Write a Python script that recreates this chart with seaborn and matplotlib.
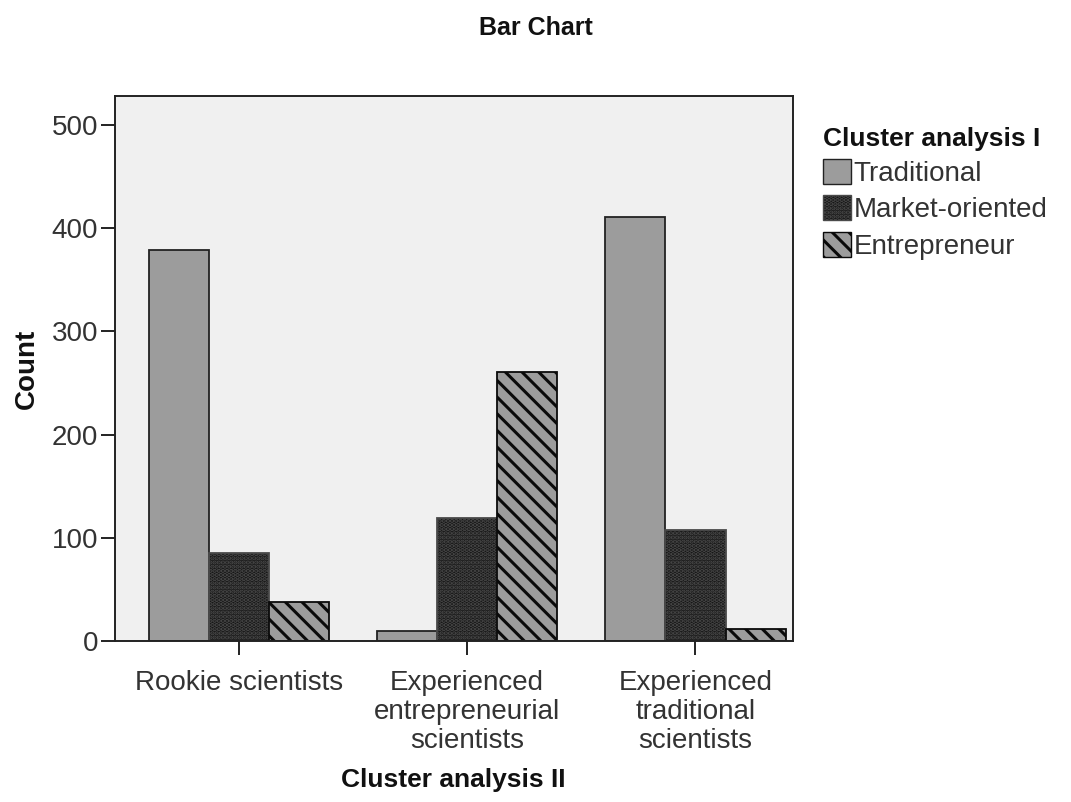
import pandas as pd
import numpy as np
import seaborn as sns
import matplotlib.pyplot as plt
from matplotlib.patches import Patch

# Values
clusters_ii = ['Rookie scientists',
               'Experienced\nentrepreneurial\nscientists',
               'Experienced\ntraditional\nscientists']
clusters_i = ['Traditional', 'Market-oriented', 'Entrepreneur']
traditional = [379, 10, 411]
market_oriented = [85, 119, 108]
entrepreneur = [38, 261, 12]

df = pd.DataFrame({
    'Cluster analysis II': clusters_ii * 3,
    'Cluster analysis I': [c for c in clusters_i for _ in clusters_ii],
    'Count': traditional + market_oriented + entrepreneur,
})

sns.set_style('ticks')
plt.rcParams['font.family'] = ['Liberation Sans', 'DejaVu Sans']
plt.rcParams['hatch.linewidth'] = 2.2

face = {'Traditional': '#9c9c9c', 'Market-oriented': '#161616', 'Entrepreneur': '#9c9c9c'}
hatches = {'Traditional': '', 'Market-oriented': '....', 'Entrepreneur': '\\\\'}
hatch_col = {'Traditional': '#222222', 'Market-oriented': '#4a4a4a', 'Entrepreneur': '#0a0a0a'}

fig = plt.figure(figsize=(10.71, 8.02), dpi=100)
ax = fig.add_axes([0.107, 0.2007, 0.633, 0.6793])
ax.set_facecolor('#f0f0f0')

sns.barplot(data=df, x='Cluster analysis II', y='Count', hue='Cluster analysis I',
            hue_order=clusters_i, order=clusters_ii, palette=face,
            width=0.79, gap=0, saturation=1, ax=ax, legend=False)

for level, cont in zip(clusters_i, ax.containers):
    for bar in cont:
        bar.set_hatch(hatches[level])
        bar.set_edgecolor(hatch_col[level])
        bar.set_linewidth(1.3)

ax.set_ylim(0, 528)
ax.set_xlim(-0.544, 2.425)
ax.set_yticks([0, 100, 200, 300, 400, 500])
for s in ax.spines.values():
    s.set_visible(True)
    s.set_color('#222222')
    s.set_linewidth(1.4)
ax.tick_params(axis='both', direction='out', length=10, width=1.4, color='#222222',
               labelsize=20, labelcolor='#333333', pad=2)
ax.tick_params(axis='x', pad=11)
for lab in ax.get_xticklabels():
    lab.set_linespacing(1.15)
ax.set_ylabel('Count', fontsize=20, fontweight='bold', labelpad=8, color='#111111')
ax.set_xlabel('Cluster analysis II', fontsize=19, fontweight='bold', labelpad=10,
              color='#111111')
fig.suptitle('Bar Chart', fontsize=18, fontweight='bold', y=0.98, color='#111111')

handles = [Patch(facecolor=face[c], hatch=hatches[c], edgecolor=hatch_col[c], label=c)
           for c in clusters_i]
leg = ax.legend(handles=handles, title='Cluster analysis I', loc='upper left',
                bbox_to_anchor=(1.0, 1.0), frameon=False, fontsize=20,
                title_fontproperties={'weight': 'bold', 'size': 19},
                handlelength=1.0, handleheight=1.0, handletextpad=0.1,
                labelspacing=0.3, borderaxespad=0.8, borderpad=0.3,
                alignment='left')
for t in leg.get_texts():
    t.set_color('#333333')
leg.get_title().set_color('#111111')

plt.savefig('out.png', dpi=100)
plt.close()
